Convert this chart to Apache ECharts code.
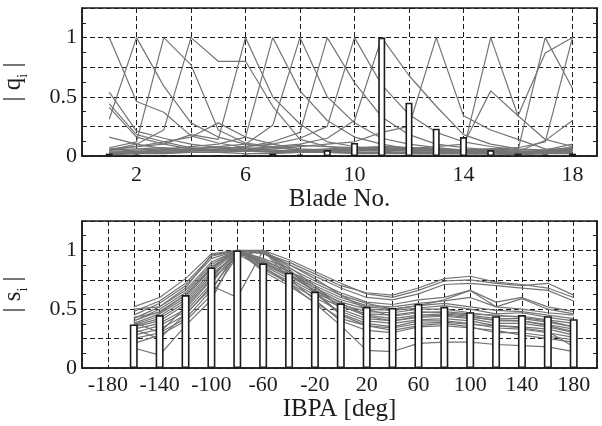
<!DOCTYPE html>
<html>
<head>
<meta charset="utf-8">
<script src="https://cdn.jsdelivr.net/npm/echarts@6/dist/echarts.min.js"></script>
<style>
  html, body { margin: 0; padding: 0; background: #fff; }
  #chart { width: 602px; height: 426px; }
</style>
</head>
<body>
<div id="chart"></div>
<script>
// ---- Upper panel: normalised blade amplitudes |q_i| per blade ----
const bladeNo = [1, 2, 3, 4, 5, 6, 7, 8, 9, 10, 11, 12, 13, 14, 15, 16, 17, 18];
const bladeTickLabels = [2, 6, 10, 14, 18];

// highlighted mode (white bars)
const qBars = [0.02, 0.006, 0.003, 0.003, 0.003, 0.006, 0.02, 0.01, 0.05, 0.11, 1.00, 0.45, 0.23, 0.16, 0.05, 0.02, 0.01, 0.02];

// all other modes (grey lines)
const qCurves = [
  [1.00, 0.46, 0.37, 0.17, 0.11, 0.07, 0.05, 0.04, 0.03, 0.03, 0.02, 0.02, 0.02, 0.02, 0.02, 0.01, 0.02, 0.03],
  [0.31, 1.00, 0.59, 0.28, 0.16, 0.10, 0.07, 0.05, 0.04, 0.03, 0.03, 0.02, 0.02, 0.02, 0.02, 0.02, 0.02, 0.04],
  [0.07, 0.12, 1.00, 0.77, 0.22, 0.11, 0.08, 0.05, 0.04, 0.03, 0.03, 0.02, 0.02, 0.02, 0.02, 0.02, 0.03, 0.05],
  [0.05, 0.10, 0.22, 1.00, 0.80, 0.80, 0.42, 0.14, 0.08, 0.05, 0.04, 0.03, 0.03, 0.02, 0.02, 0.02, 0.03, 0.05],
  [0.06, 0.08, 0.10, 0.18, 0.14, 1.00, 0.50, 0.27, 0.12, 0.08, 0.05, 0.04, 0.03, 0.03, 0.02, 0.02, 0.03, 0.04],
  [0.04, 0.05, 0.06, 0.08, 0.10, 0.16, 1.00, 0.55, 0.30, 0.16, 0.10, 0.06, 0.05, 0.04, 0.03, 0.03, 0.03, 0.05],
  [0.03, 0.04, 0.05, 0.06, 0.08, 0.10, 0.26, 1.00, 0.50, 0.28, 0.15, 0.10, 0.07, 0.05, 0.04, 0.03, 0.04, 0.05],
  [0.03, 0.04, 0.05, 0.05, 0.06, 0.08, 0.12, 0.20, 1.00, 0.62, 0.33, 0.18, 0.10, 0.07, 0.05, 0.04, 0.04, 0.06],
  [0.02, 0.03, 0.04, 0.05, 0.06, 0.08, 0.10, 0.15, 0.25, 1.00, 0.60, 0.35, 0.20, 0.12, 0.08, 0.05, 0.05, 0.07],
  [0.02, 0.03, 0.03, 0.04, 0.05, 0.06, 0.08, 0.10, 0.15, 0.30, 1.00, 0.68, 0.42, 0.18, 0.10, 0.06, 0.05, 0.06],
  [0.16, 0.10, 0.06, 0.05, 0.04, 0.05, 0.06, 0.08, 0.10, 0.12, 0.20, 0.25, 1.00, 0.34, 0.22, 0.14, 0.06, 0.05],
  [0.41, 0.16, 0.10, 0.06, 0.05, 0.04, 0.04, 0.05, 0.06, 0.07, 0.08, 0.07, 0.06, 0.05, 1.00, 0.34, 0.14, 0.08],
  [0.44, 0.18, 0.12, 0.07, 0.05, 0.04, 0.04, 0.04, 0.05, 0.05, 0.06, 0.06, 0.08, 0.10, 0.55, 0.34, 0.87, 1.00],
  [0.02, 0.02, 0.03, 0.03, 0.03, 0.04, 0.04, 0.04, 0.05, 0.05, 0.05, 0.05, 0.05, 0.05, 0.06, 0.05, 1.00, 0.57],
  [0.54, 0.21, 0.15, 0.10, 0.07, 0.05, 0.04, 0.04, 0.04, 0.04, 0.05, 0.05, 0.05, 0.05, 0.06, 0.07, 0.12, 1.00],
  [0.05, 0.08, 0.12, 0.16, 0.28, 0.16, 0.10, 0.06, 0.05, 0.06, 0.07, 0.06, 0.05, 0.04, 0.04, 0.03, 0.04, 0.06],
  [0.03, 0.02, 0.03, 0.04, 0.05, 0.04, 0.03, 0.03, 0.04, 0.05, 0.06, 0.05, 0.04, 0.03, 0.03, 0.02, 0.03, 0.08],
  [0.02, 0.03, 0.05, 0.06, 0.08, 0.06, 0.05, 0.04, 0.05, 0.06, 0.08, 0.07, 0.06, 0.05, 0.04, 0.03, 0.05, 0.10],
  [0.05, 0.06, 0.07, 0.05, 0.04, 0.05, 0.07, 0.09, 0.08, 0.07, 0.06, 0.05, 0.04, 0.04, 0.05, 0.04, 0.13, 0.30],
  [0.01, 0.02, 0.02, 0.03, 0.03, 0.02, 0.02, 0.03, 0.03, 0.02, 0.02, 0.03, 0.03, 0.02, 0.02, 0.02, 0.02, 0.02]
];

// ---- Lower panel: travelling-wave content |s_i| per IBPA ----
const ibpa = [-160, -140, -120, -100, -80, -60, -40, -20, 0, 20, 40, 60, 80, 100, 120, 140, 160, 180];
const ibpaTickLabels = [-180, -140, -100, -60, -20, 20, 60, 100, 140, 180];

const sBars = [0.37, 0.45, 0.62, 0.855, 1.00, 0.89, 0.81, 0.65, 0.55, 0.52, 0.51, 0.545, 0.52, 0.475, 0.44, 0.45, 0.44, 0.415];

const sCurves = [
  [0.52, 0.60, 0.76, 0.97, 1.00, 0.98, 0.90, 0.80, 0.70, 0.64, 0.62, 0.68, 0.76, 0.78, 0.73, 0.71, 0.68, 0.60],
  [0.48, 0.57, 0.72, 0.95, 1.00, 1.00, 0.92, 0.82, 0.72, 0.63, 0.60, 0.66, 0.74, 0.75, 0.72, 0.70, 0.72, 0.62],
  [0.45, 0.55, 0.70, 0.93, 1.00, 0.97, 0.88, 0.78, 0.68, 0.60, 0.58, 0.63, 0.71, 0.72, 0.70, 0.68, 0.66, 0.57],
  [0.42, 0.52, 0.66, 0.90, 1.00, 0.93, 0.85, 0.74, 0.64, 0.56, 0.54, 0.58, 0.60, 0.66, 0.56, 0.60, 0.52, 0.48],
  [0.40, 0.50, 0.64, 0.88, 1.00, 0.92, 0.82, 0.70, 0.60, 0.53, 0.52, 0.55, 0.57, 0.60, 0.52, 0.50, 0.47, 0.45],
  [0.40, 0.48, 0.62, 0.86, 1.00, 0.90, 0.80, 0.68, 0.58, 0.52, 0.50, 0.53, 0.55, 0.52, 0.49, 0.48, 0.45, 0.42],
  [0.38, 0.46, 0.60, 0.84, 1.00, 0.89, 0.79, 0.66, 0.56, 0.50, 0.49, 0.51, 0.53, 0.50, 0.46, 0.47, 0.43, 0.40],
  [0.37, 0.44, 0.58, 0.82, 0.99, 0.87, 0.76, 0.64, 0.54, 0.48, 0.47, 0.50, 0.50, 0.47, 0.44, 0.44, 0.41, 0.38],
  [0.36, 0.42, 0.56, 0.80, 0.97, 0.85, 0.74, 0.62, 0.52, 0.46, 0.45, 0.48, 0.47, 0.45, 0.42, 0.42, 0.39, 0.35],
  [0.35, 0.40, 0.54, 0.78, 0.98, 1.00, 0.82, 0.68, 0.55, 0.45, 0.42, 0.45, 0.46, 0.44, 0.40, 0.40, 0.37, 0.33],
  [0.33, 0.38, 0.50, 0.75, 0.95, 1.00, 0.86, 0.70, 0.50, 0.42, 0.40, 0.43, 0.44, 0.42, 0.38, 0.38, 0.35, 0.30],
  [0.30, 0.36, 0.48, 0.72, 1.00, 0.84, 0.72, 0.60, 0.48, 0.40, 0.38, 0.41, 0.42, 0.40, 0.36, 0.35, 0.33, 0.28],
  [0.28, 0.33, 0.45, 0.70, 0.60, 1.00, 0.80, 0.65, 0.46, 0.38, 0.35, 0.40, 0.40, 0.38, 0.34, 0.33, 0.30, 0.26],
  [0.25, 0.30, 0.42, 0.66, 1.00, 0.82, 0.70, 0.56, 0.42, 0.36, 0.32, 0.36, 0.38, 0.35, 0.30, 0.30, 0.27, 0.24],
  [0.21, 0.28, 0.40, 0.62, 0.95, 1.00, 0.76, 0.58, 0.40, 0.32, 0.30, 0.35, 0.36, 0.34, 0.32, 0.28, 0.25, 0.22],
  [0.17, 0.11, 0.36, 0.58, 1.00, 0.86, 0.72, 0.55, 0.36, 0.15, 0.14, 0.21, 0.22, 0.22, 0.20, 0.19, 0.18, 0.14],
  [0.50, 0.52, 0.68, 0.96, 1.00, 0.99, 0.88, 0.76, 0.62, 0.55, 0.50, 0.53, 0.58, 0.66, 0.52, 0.59, 0.50, 0.46],
  [0.43, 0.47, 0.62, 0.85, 1.00, 0.91, 0.82, 0.72, 0.62, 0.50, 0.44, 0.47, 0.48, 0.46, 0.45, 0.43, 0.40, 0.35],
  [0.39, 0.30, 0.52, 0.76, 1.00, 0.88, 0.78, 0.66, 0.53, 0.44, 0.40, 0.44, 0.45, 0.43, 0.41, 0.40, 0.36, 0.31],
  [0.33, 0.25, 0.46, 0.68, 0.96, 1.00, 0.84, 0.64, 0.45, 0.36, 0.34, 0.38, 0.39, 0.37, 0.36, 0.34, 0.31, 0.18]
];

const yTickLabels = [0, 0.5, 1];

// ---- styling ----
const FONT = '"Liberation Serif", "Times New Roman", serif';
const INK = '#1c1c1c';
const CURVE = '#747474';
const dashed = { type: [5, 3], color: INK, width: 1 };

const hasLabel = (list, v) => list.some(t => Math.abs(t - v) < 1e-6);

function leftAxis(gridIndex, symbol) {
  return {
    type: 'value', gridIndex, position: 'left',
    min: 0, max: 1.25, interval: 0.25,
    axisLine: { show: true, onZero: false, lineStyle: { color: INK, width: 1.5 } },
    axisTick: { show: true, inside: true, length: 4, lineStyle: { color: INK, width: 1 } },
    minorTick: { show: true, splitNumber: 2, length: 4, lineStyle: { color: INK, width: 1 } },
    splitLine: { show: true, lineStyle: dashed },
    axisLabel: {
      margin: 5, color: INK, fontFamily: FONT, fontSize: 22,
      formatter: v => hasLabel(yTickLabels, v) ? String(v) : ''
    },
    name: '| ' + symbol + '{sub|i} |',
    nameLocation: 'middle', nameRotate: 90, nameGap: 52,
    nameTextStyle: {
      color: INK, fontFamily: FONT, fontSize: 25, lineHeight: 25,
      rich: { sub: { fontFamily: FONT, fontSize: 14, lineHeight: 33, verticalAlign: 'bottom', color: INK } }
    }
  };
}

function rightAxis(gridIndex) {
  return {
    type: 'value', gridIndex, position: 'right',
    min: 0, max: 1.25, interval: 0.25,
    axisLine: { show: true, onZero: false, lineStyle: { color: INK, width: 1.5 } },
    axisTick: { show: true, inside: true, length: 4, lineStyle: { color: INK, width: 1 } },
    minorTick: { show: true, splitNumber: 2, length: 4, lineStyle: { color: INK, width: 1 } },
    splitLine: { show: false },
    axisLabel: { show: false }
  };
}

function bottomAxis(gridIndex, min, max, interval, labels, title, nameGap, margin) {
  return {
    type: 'value', gridIndex, min, max, interval,
    axisLine: { show: true, onZero: false, lineStyle: { color: INK, width: 1.5 } },
    axisTick: { show: false },
    splitLine: { show: true, lineStyle: dashed },
    axisLabel: {
      margin, color: INK, fontFamily: FONT, fontSize: 22, showMinLabel: true, showMaxLabel: true,
      formatter: v => hasLabel(labels, v) ? String(v) : ''
    },
    name: title, nameLocation: 'middle', nameGap,
    nameTextStyle: { color: INK, fontFamily: FONT, fontSize: 25 }
  };
}

const series = [];
qCurves.forEach(c => series.push({
  type: 'line', xAxisIndex: 0, yAxisIndex: 0, symbol: 'none', silent: true, z: 2,
  lineStyle: { color: CURVE, width: 1.2 },
  data: bladeNo.map((b, i) => [b, c[i]])
}));
series.push({
  type: 'bar', xAxisIndex: 0, yAxisIndex: 0, barWidth: 7, silent: true, z: 3,
  itemStyle: { color: '#ffffff', borderColor: INK, borderWidth: 1.6 },
  data: bladeNo.map((b, i) => [b, qBars[i]])
});
sCurves.forEach(c => series.push({
  type: 'line', xAxisIndex: 1, yAxisIndex: 2, symbol: 'none', silent: true, z: 2,
  lineStyle: { color: CURVE, width: 1.2 },
  data: ibpa.map((a, i) => [a, c[i]])
}));
series.push({
  type: 'bar', xAxisIndex: 1, yAxisIndex: 2, barWidth: 8, silent: true, z: 3,
  itemStyle: { color: '#ffffff', borderColor: INK, borderWidth: 1.6 },
  data: ibpa.map((a, i) => [a, sBars[i]])
});

const gridBase = {
  left: 82, width: 515, show: true, borderColor: INK, borderWidth: 1.5,
  backgroundColor: 'transparent', containLabel: false, outerBoundsMode: 'none'
};

const chart = echarts.init(document.getElementById('chart'), null, { renderer: 'canvas' });
chart.setOption({
  animation: false,
  backgroundColor: '#ffffff',
  grid: [
    Object.assign({}, gridBase, { top: 8, height: 148 }),
    Object.assign({}, gridBase, { top: 221, height: 147 })
  ],
  xAxis: [
    bottomAxis(0, 0, 18.9, 2, bladeTickLabels, 'Blade No.', 30, 8),
    bottomAxis(1, -200, 198, 20, ibpaTickLabels, 'IBPA [deg]', 25, 6)
  ],
  yAxis: [leftAxis(0, 'q'), rightAxis(0), leftAxis(1, 's'), rightAxis(1)],
  series
});
</script>
</body>
</html>
